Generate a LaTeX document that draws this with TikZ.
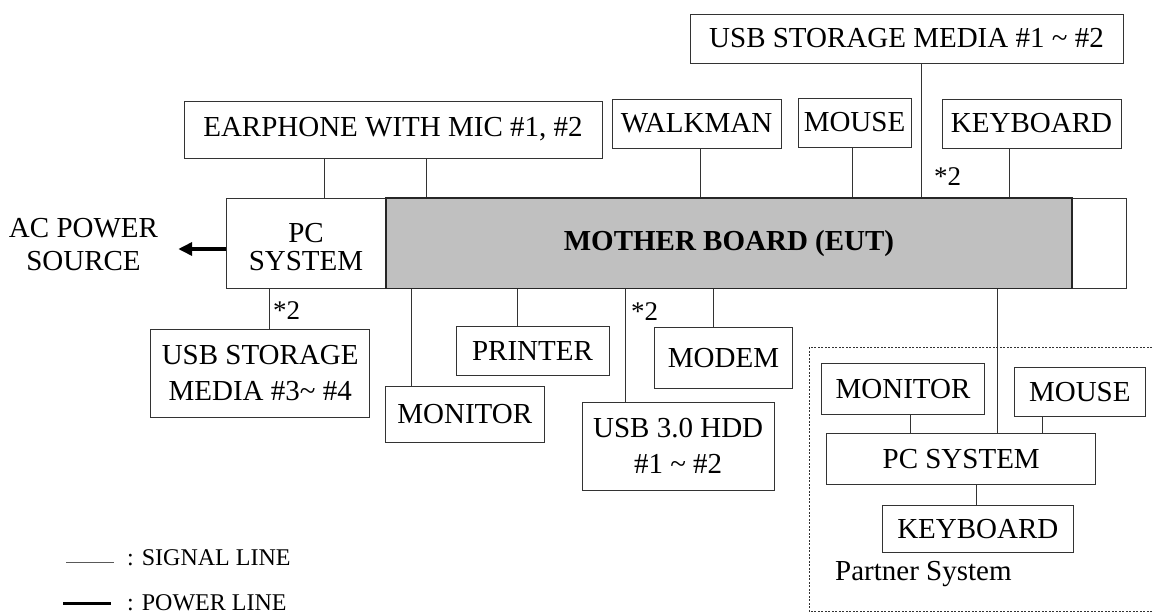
\documentclass[tikz,border=0pt]{standalone}
\usepackage{fontspec}
\setmainfont{Liberation Serif}
\usetikzlibrary{arrows.meta}
\definecolor{mbgray}{HTML}{C0C0C0}
\definecolor{edge}{HTML}{333333}
\begin{document}
\begin{tikzpicture}[x=1pt,y=-1pt,
  box/.style={draw=edge, line width=1pt, fill=white, inner sep=0pt, align=center,
              font=\fontsize{29}{36}\selectfont},
  mbbox/.style={draw=black!85, line width=1.6pt, fill=mbgray, inner sep=0pt,
              font=\fontsize{29}{36}\selectfont\bfseries},
  plain/.style={inner sep=0pt, align=center, font=\fontsize{29}{33}\selectfont},
  note/.style={inner sep=0pt, font=\fontsize{27}{30}\selectfont},
  sig/.style={draw=edge, line width=1pt},
  power/.style={draw=black, line width=3.5pt, -{Triangle[length=14pt,width=13pt]}},
  partner/.style={draw=edge, line width=1pt, dash pattern=on 2pt off 1.5pt},
  legendtxt/.style={inner sep=0pt, anchor=base west, font=\fontsize{24}{28}\selectfont}]
\useasboundingbox (0,0) rectangle (1152,613);

% ---- main unit ----
\node[box, minimum width=900.5pt, minimum height=90.5pt] (pcbox) at (676.25,243.25) {};
\node[mbbox, minimum width=686pt, minimum height=90.5pt] (mb) at (729,243.25) {MOTHER BOARD (EUT)};
\node[plain, font=\fontsize{29}{27.5}\selectfont] (pcs) at (306,247) {PC\\SYSTEM};
\node[plain, inner xsep=20pt] (ac) at (83.5,245) {AC POWER\\SOURCE};

% ---- top peripherals ----
\node[box, minimum width=433pt, minimum height=49pt] (usbA) at (906.5,38.5) {USB STORAGE MEDIA \#1 \textasciitilde{} \#2};
\node[box, minimum width=418pt, minimum height=57pt] (earph) at (393,129.5) {EARPHONE WITH MIC \#1, \#2};
\node[box, minimum width=169pt, minimum height=49pt] (walk) at (696.5,123.5) {WALKMAN};
\node[box, minimum width=113pt, minimum height=49pt] (mouse) at (854.5,122.5) {MOUSE};
\node[box, minimum width=179pt, minimum height=49pt] (kbd) at (1031.5,123.5) {KEYBOARD};

% ---- bottom peripherals ----
\node[box, minimum width=219pt, minimum height=88.7pt] (usbB) at (260.2,373.35) {USB STORAGE\\MEDIA \#3\textasciitilde{} \#4};
\node[box, minimum width=159.5pt, minimum height=56pt] (mon) at (464.75,414) {MONITOR};
\node[box, minimum width=153pt, minimum height=49.3pt] (prn) at (532.5,350.65) {PRINTER};
\node[box, minimum width=192.3pt, minimum height=87.3pt] (hdd) at (678.15,446.35) {USB 3.0 HDD\\\#1 \textasciitilde{} \#2};
\node[box, minimum width=138.4pt, minimum height=60.3pt] (modem) at (723.5,357.85) {MODEM};

% ---- partner system ----
\draw[partner] (1152,347.3) -- (809,347.3) -- (809,611.5) -- (1152,611.5);
\node[box, minimum width=162.6pt, minimum height=51.4pt] (pmon) at (903,389) {MONITOR};
\node[box, minimum width=131pt, minimum height=49pt] (pmouse) at (1079.8,391.8) {MOUSE};
\node[box, minimum width=269pt, minimum height=51.4pt] (ppc) at (961.2,459) {PC SYSTEM};
\node[box, minimum width=191pt, minimum height=47pt] (pkbd) at (977.8,529.2) {KEYBOARD};
\node[plain, anchor=base west] (ptxt) at (835,580.7) {Partner System};

% ---- connector x positions ----
\coordinate (x1) at (324.3,0);
\coordinate (x2) at (426.7,0);
\coordinate (x3) at (700.3,0);
\coordinate (x4) at (852.3,0);
\coordinate (x5) at (921.3,0);
\coordinate (x6) at (1009.3,0);
\coordinate (x7) at (269.3,0);
\coordinate (x8) at (411.7,0);
\coordinate (x9) at (517.2,0);
\coordinate (x10) at (625.3,0);
\coordinate (x11) at (713.3,0);
\coordinate (x12) at (997.7,0);
\coordinate (x13) at (910,0);
\coordinate (x14) at (1042.3,0);
\coordinate (x15) at (976.2,0);

\draw[sig] (earph.south -| x1) -- (pcbox.north -| x1);
\draw[sig] (earph.south -| x2) -- (mb.north -| x2);
\draw[sig] (walk.south -| x3) -- (mb.north -| x3);
\draw[sig] (mouse.south -| x4) -- (mb.north -| x4);
\draw[sig] (usbA.south -| x5) -- (mb.north -| x5);
\draw[sig] (kbd.south -| x6) -- (mb.north -| x6);
\draw[sig] (pcbox.south -| x7) -- (usbB.north -| x7);
\draw[sig] (mb.south -| x8) -- (mon.north -| x8);
\draw[sig] (mb.south -| x9) -- (prn.north -| x9);
\draw[sig] (mb.south -| x10) -- (hdd.north -| x10);
\draw[sig] (mb.south -| x11) -- (modem.north -| x11);
\draw[sig] (mb.south -| x12) -- (ppc.north -| x12);
\draw[sig] (pmon.south -| x13) -- (ppc.north -| x13);
\draw[sig] (pmouse.south -| x14) -- (ppc.north -| x14);
\draw[sig] (ppc.south -| x15) -- (pkbd.north -| x15);

% ---- *2 notes ----
\node[note, anchor=base west] (n1) at (934,185) {*2};
\node[note, anchor=base west] (n2) at (273,319.5) {*2};
\node[note, anchor=base west] (n3) at (631,320.5) {*2};

% ---- power ----
\coordinate (pw) at (226,249);
\draw[power] (pw) -- (pw -| ac.east);

% ---- legend ----
\coordinate (ls1) at (66,562.3);
\coordinate (ls2) at (114,562.3);
\draw[draw=black!65, line width=1pt] (ls1) -- (ls2);
\node[legendtxt] (lsig) at (127,565) {: SIGNAL LINE};
\coordinate (lp1) at (63,603.3);
\coordinate (lp2) at (111,603.3);
\draw[draw=black, line width=3.5pt] (lp1) -- (lp2);
\node[legendtxt] (lpow) at (127,610) {: POWER LINE};
\end{tikzpicture}
\end{document}
